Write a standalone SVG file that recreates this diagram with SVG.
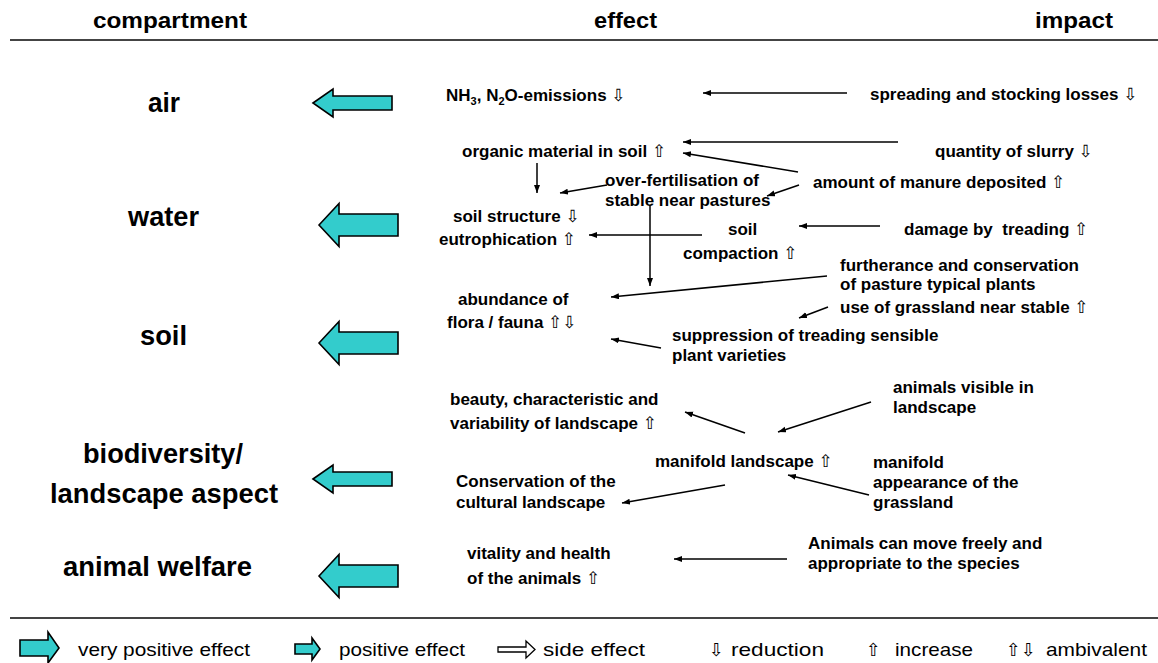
<svg xmlns="http://www.w3.org/2000/svg" width="1158" height="663" viewBox="0 0 1158 663">
<style>
.hd{font-family:"Liberation Sans",Arial,sans-serif;font-weight:bold;font-size:22px;fill:#000}
.cp{font-family:"Liberation Sans",Arial,sans-serif;font-weight:bold;font-size:27px;fill:#000}
.t{font-family:"Liberation Sans",Arial,sans-serif;font-weight:bold;font-size:17px;fill:#000}
.lg{font-family:"Liberation Sans",Arial,sans-serif;font-size:19px;fill:#000}
.ar{font-family:"DejaVu Sans",sans-serif;font-weight:normal}
.la{font-family:"DejaVu Sans",sans-serif;font-size:18px;fill:#000}
.sep{stroke:#444;stroke-width:2}
.big{fill:#33CCCC;stroke:#000;stroke-width:1.6;stroke-linejoin:miter}
.out{fill:#fff;stroke:#000;stroke-width:1.3}
.con line{stroke:#000;stroke-width:1.5;marker-end:url(#ah)}
</style>
<defs>
<marker id="ah" markerUnits="userSpaceOnUse" markerWidth="10" markerHeight="8" refX="8" refY="3" orient="auto">
<path d="M0,0 L8,3 L0,6 z" fill="#000"/>
</marker>
</defs>
<rect width="1158" height="663" fill="#fff"/>

<g id="header">
<text class="hd" x="93" y="28" textLength="154" lengthAdjust="spacingAndGlyphs">compartment</text>
<text class="hd" x="594" y="28" textLength="63" lengthAdjust="spacingAndGlyphs">effect</text>
<text class="hd" x="1035" y="28" textLength="78" lengthAdjust="spacingAndGlyphs">impact</text>
<line class="sep" x1="10" y1="40" x2="1158" y2="40"/>
</g>

<g id="compartments">
<g id="c-air">
<text class="cp" x="148" y="112" textLength="32" lengthAdjust="spacingAndGlyphs">air</text>
<polygon class="big" points="313,103 333,89 333,96 392,96 392,110 333,110 333,117"/>
</g>
<g id="c-water">
<text class="cp" x="128" y="226" textLength="71" lengthAdjust="spacingAndGlyphs">water</text>
<polygon class="big" points="319,225 339,203.5 339,214 398,214 398,236 339,236 339,246.5"/>
</g>
<g id="c-soil">
<text class="cp" x="140" y="345" textLength="47" lengthAdjust="spacingAndGlyphs">soil</text>
<polygon class="big" points="319,343 339,321.5 339,332 398,332 398,354 339,354 339,364.5"/>
</g>
<g id="c-bio">
<text class="cp" x="83" y="463" textLength="160" lengthAdjust="spacingAndGlyphs">biodiversity/</text>
<text class="cp" x="50" y="503" textLength="228" lengthAdjust="spacingAndGlyphs">landscape aspect</text>
<polygon class="big" points="313,479 333,465 333,472 392,472 392,486 333,486 333,493"/>
</g>
<g id="c-animal">
<text class="cp" x="63" y="576" textLength="189" lengthAdjust="spacingAndGlyphs">animal welfare</text>
<polygon class="big" points="319,576 339,554.5 339,565 398,565 398,587 339,587 339,597.5"/>
</g>
</g>

<g id="nodes">
<g id="n-nh3"><text class="t" x="446" y="101">NH<tspan font-size="11" dy="4">3</tspan><tspan dy="-4">, N</tspan><tspan font-size="11" dy="4">2</tspan><tspan dy="-4">O-emissions </tspan><tspan class="ar">⇩</tspan></text></g>
<g id="n-spreading"><text class="t" x="870" y="100">spreading and stocking losses <tspan class="ar">⇩</tspan></text></g>
<g id="n-organic"><text class="t" x="462" y="157">organic material in soil <tspan class="ar">⇧</tspan></text></g>
<g id="n-slurry"><text class="t" x="935" y="157">quantity of slurry <tspan class="ar">⇩</tspan></text></g>
<g id="n-manure"><text class="t" x="813" y="188">amount of manure deposited <tspan class="ar">⇧</tspan></text></g>
<g id="n-overfert"><text class="t" x="605" y="186">over-fertilisation of</text><text class="t" x="605" y="206">stable near pastures</text></g>
<g id="n-soilstruct"><text class="t" x="453" y="222">soil structure <tspan class="ar">⇩</tspan></text><text class="t" x="439" y="245">eutrophication <tspan class="ar">⇧</tspan></text></g>
<g id="n-compaction"><text class="t" x="728" y="235">soil</text><text class="t" x="683" y="259">compaction <tspan class="ar">⇧</tspan></text></g>
<g id="n-damage"><text class="t" x="904" y="235" xml:space="preserve">damage by  treading <tspan class="ar">⇧</tspan></text></g>
<g id="n-furtherance"><text class="t" x="840" y="271">furtherance and conservation</text><text class="t" x="840" y="290">of pasture typical plants</text></g>
<g id="n-abundance"><text class="t" x="458" y="305">abundance of</text><text class="t" x="447" y="328">flora / fauna <tspan class="ar">⇧⇩</tspan></text></g>
<g id="n-grassland"><text class="t" x="840" y="313">use of grassland near stable <tspan class="ar">⇧</tspan></text></g>
<g id="n-suppression"><text class="t" x="672" y="341">suppression of treading sensible</text><text class="t" x="672" y="361">plant varieties</text></g>
<g id="n-beauty"><text class="t" x="450" y="405">beauty, characteristic and</text><text class="t" x="450" y="429">variability of landscape <tspan class="ar">⇧</tspan></text></g>
<g id="n-visible"><text class="t" x="893" y="393">animals visible in</text><text class="t" x="893" y="413">landscape</text></g>
<g id="n-manifold"><text class="t" x="655" y="467">manifold landscape <tspan class="ar">⇧</tspan></text></g>
<g id="n-appearance"><text class="t" x="873" y="468">manifold</text><text class="t" x="873" y="488">appearance of the</text><text class="t" x="873" y="508">grassland</text></g>
<g id="n-conservation"><text class="t" x="456" y="487">Conservation of the</text><text class="t" x="456" y="508">cultural landscape</text></g>
<g id="n-vitality"><text class="t" x="467" y="559">vitality and health</text><text class="t" x="467" y="584">of the animals <tspan class="ar">⇧</tspan></text></g>
<g id="n-move"><text class="t" x="808" y="549">Animals can move freely and</text><text class="t" x="808" y="569">appropriate to the species</text></g>
</g>

<g id="connectors" class="con">
<line x1="847" y1="93" x2="703" y2="93"/>
<line x1="898" y1="142" x2="683" y2="142"/>
<line x1="798" y1="172" x2="683" y2="153"/>
<line x1="799" y1="185" x2="767" y2="196"/>
<line x1="537" y1="163" x2="537" y2="193"/>
<line x1="607" y1="185" x2="560" y2="193"/>
<line x1="650" y1="205" x2="650" y2="286"/>
<line x1="702" y1="235" x2="589" y2="235"/>
<line x1="880" y1="226" x2="799" y2="226"/>
<line x1="827" y1="276" x2="611" y2="297"/>
<line x1="828" y1="307" x2="799" y2="318"/>
<line x1="661" y1="348" x2="611" y2="339"/>
<line x1="745" y1="433" x2="685" y2="412"/>
<line x1="871" y1="402" x2="778" y2="432"/>
<line x1="869" y1="495" x2="788" y2="475"/>
<line x1="725" y1="485" x2="622" y2="503"/>
<line x1="787" y1="559" x2="674" y2="559"/>
</g>

<g id="legend">
<line class="sep" x1="10" y1="618" x2="1158" y2="618"/>
<polygon class="big" points="20,640 48,640 48,632 59,648 48,663 48,656 20,656"/>
<text class="lg" x="78" y="656" textLength="172" lengthAdjust="spacingAndGlyphs">very positive effect</text>
<polygon class="big" points="295,644 312,644 312,638 320,649 312,660 312,654 295,654"/>
<text class="lg" x="339" y="656" textLength="126" lengthAdjust="spacingAndGlyphs">positive effect</text>
<polygon class="out" points="498,647 526,647 526,641 535,649.5 526,658 526,652 498,652"/>
<text class="lg" x="543" y="656" textLength="102" lengthAdjust="spacingAndGlyphs">side effect</text>
<text class="la" x="709" y="656">⇩</text>
<text class="lg" x="731" y="656" textLength="93" lengthAdjust="spacingAndGlyphs">reduction</text>
<text class="la" x="866" y="656">⇧</text>
<text class="lg" x="895" y="656" textLength="78" lengthAdjust="spacingAndGlyphs">increase</text>
<text class="la" x="1006" y="656">⇧⇩</text>
<text class="lg" x="1046" y="656" textLength="101" lengthAdjust="spacingAndGlyphs">ambivalent</text>
</g>
</svg>
